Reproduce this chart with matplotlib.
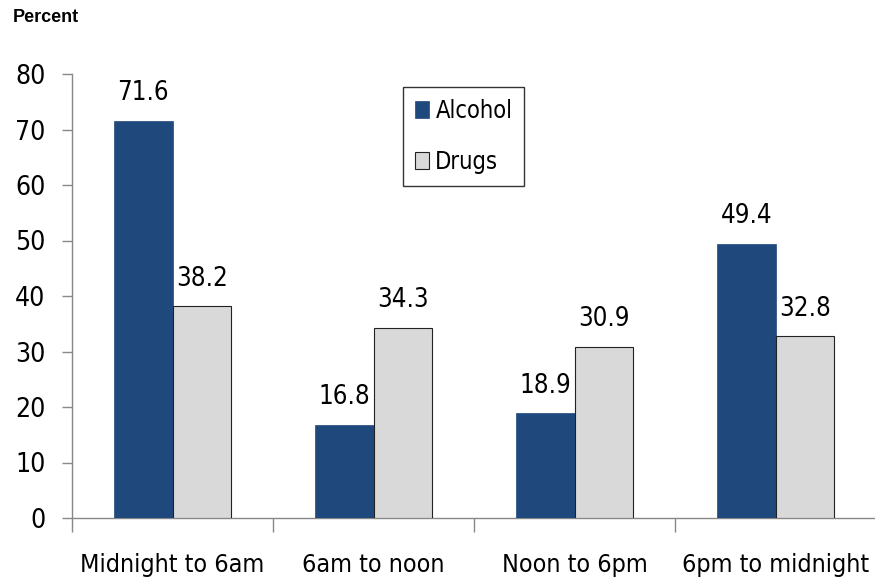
import matplotlib
matplotlib.use("Agg")
import matplotlib.pyplot as plt
import numpy as np
from matplotlib import font_manager
from matplotlib.font_manager import FontProperties

categories = ["Midnight to 6am", "6am to noon", "Noon to 6pm", "6pm to midnight"]
alcohol = [71.6, 16.8, 18.9, 49.4]
drugs = [38.2, 34.3, 30.9, 32.8]
yticks = [0, 10, 20, 30, 40, 50, 60, 70, 80]


def narrow_font():
    """Pick a regular-weight narrow/condensed face if one is installed."""
    files = [f.fname for f in font_manager.fontManager.ttflist]
    prefs = ["liberationsansnarrow-regular", "dejavusanscondensed.ttf",
             "robotocondensed-regular", "opensanscondensed", "notosans-condensed.",
             "opensans_condensed-regular", "notosanscondensed-regular"]
    for p in prefs:
        for fn in files:
            if p in fn.lower().replace(" ", ""):
                return fn
    return None


nf = narrow_font()
base = dict(fname=nf) if nf else dict(family="DejaVu Sans")


def fp(size):
    return FontProperties(size=size, **base)


fig = plt.figure(figsize=(8.75, 5.86), dpi=100)
ax = fig.add_axes([72 / 875, 68 / 586, 804 / 875, 444 / 586])

x = np.arange(len(categories))
w = 0.29
b1 = ax.bar(x - w / 2, alcohol, w, color="#1F497D", edgecolor="#1F497D", linewidth=0.5,
            label="Alcohol", zorder=3)
b2 = ax.bar(x + w / 2, drugs, w, color="#D9D9D9", edgecolor="#222222", linewidth=0.8,
            label="Drugs", zorder=3)

for bars, vals in ((b1, alcohol), (b2, drugs)):
    for rect, v in zip(bars, vals):
        ax.text(rect.get_x() + rect.get_width() / 2, v + 2.6, f"{v:.1f}",
                ha="center", va="bottom", fontproperties=fp(18.5))

ax.set_xlim(-0.5, len(categories) - 0.5)
ax.set_ylim(0, 80)
ax.set_yticks(yticks)
ax.set_yticklabels([str(t) for t in yticks], fontproperties=fp(19))
ax.set_xticks(x)
ax.set_xticklabels(categories, fontproperties=fp(18))
ax.tick_params(axis="x", length=0, pad=25)
ax.set_xticks(np.arange(-0.5, len(categories) + 0.5, 1), minor=True)
ax.tick_params(axis="x", which="minor", length=10, color="#888888", width=1, direction="out")
ax.tick_params(axis="y", length=7, color="#888888", width=1, direction="out", pad=12)

for s in ("top", "right"):
    ax.spines[s].set_visible(False)
for s in ("left", "bottom"):
    ax.spines[s].set_color("#888888")
    ax.spines[s].set_linewidth(1)

leg = ax.legend(loc="upper left", bbox_to_anchor=((403 - 72) / 804, 1 - (87 - 74) / 444),
                bbox_transform=ax.transAxes, prop=fp(17),
                frameon=True, fancybox=False, handlelength=0.62, handleheight=0.7,
                handletextpad=0.25, labelspacing=1.15, borderpad=0.5, borderaxespad=0)
leg.get_frame().set_edgecolor("black")
leg.get_frame().set_linewidth(1)

fig.text(13 / 875, 1 - 18 / 586, "Percent", fontsize=13, fontweight="bold",
         family=["Liberation Sans", "DejaVu Sans"], va="center", ha="left")

fig.savefig("out.png", dpi=100)
